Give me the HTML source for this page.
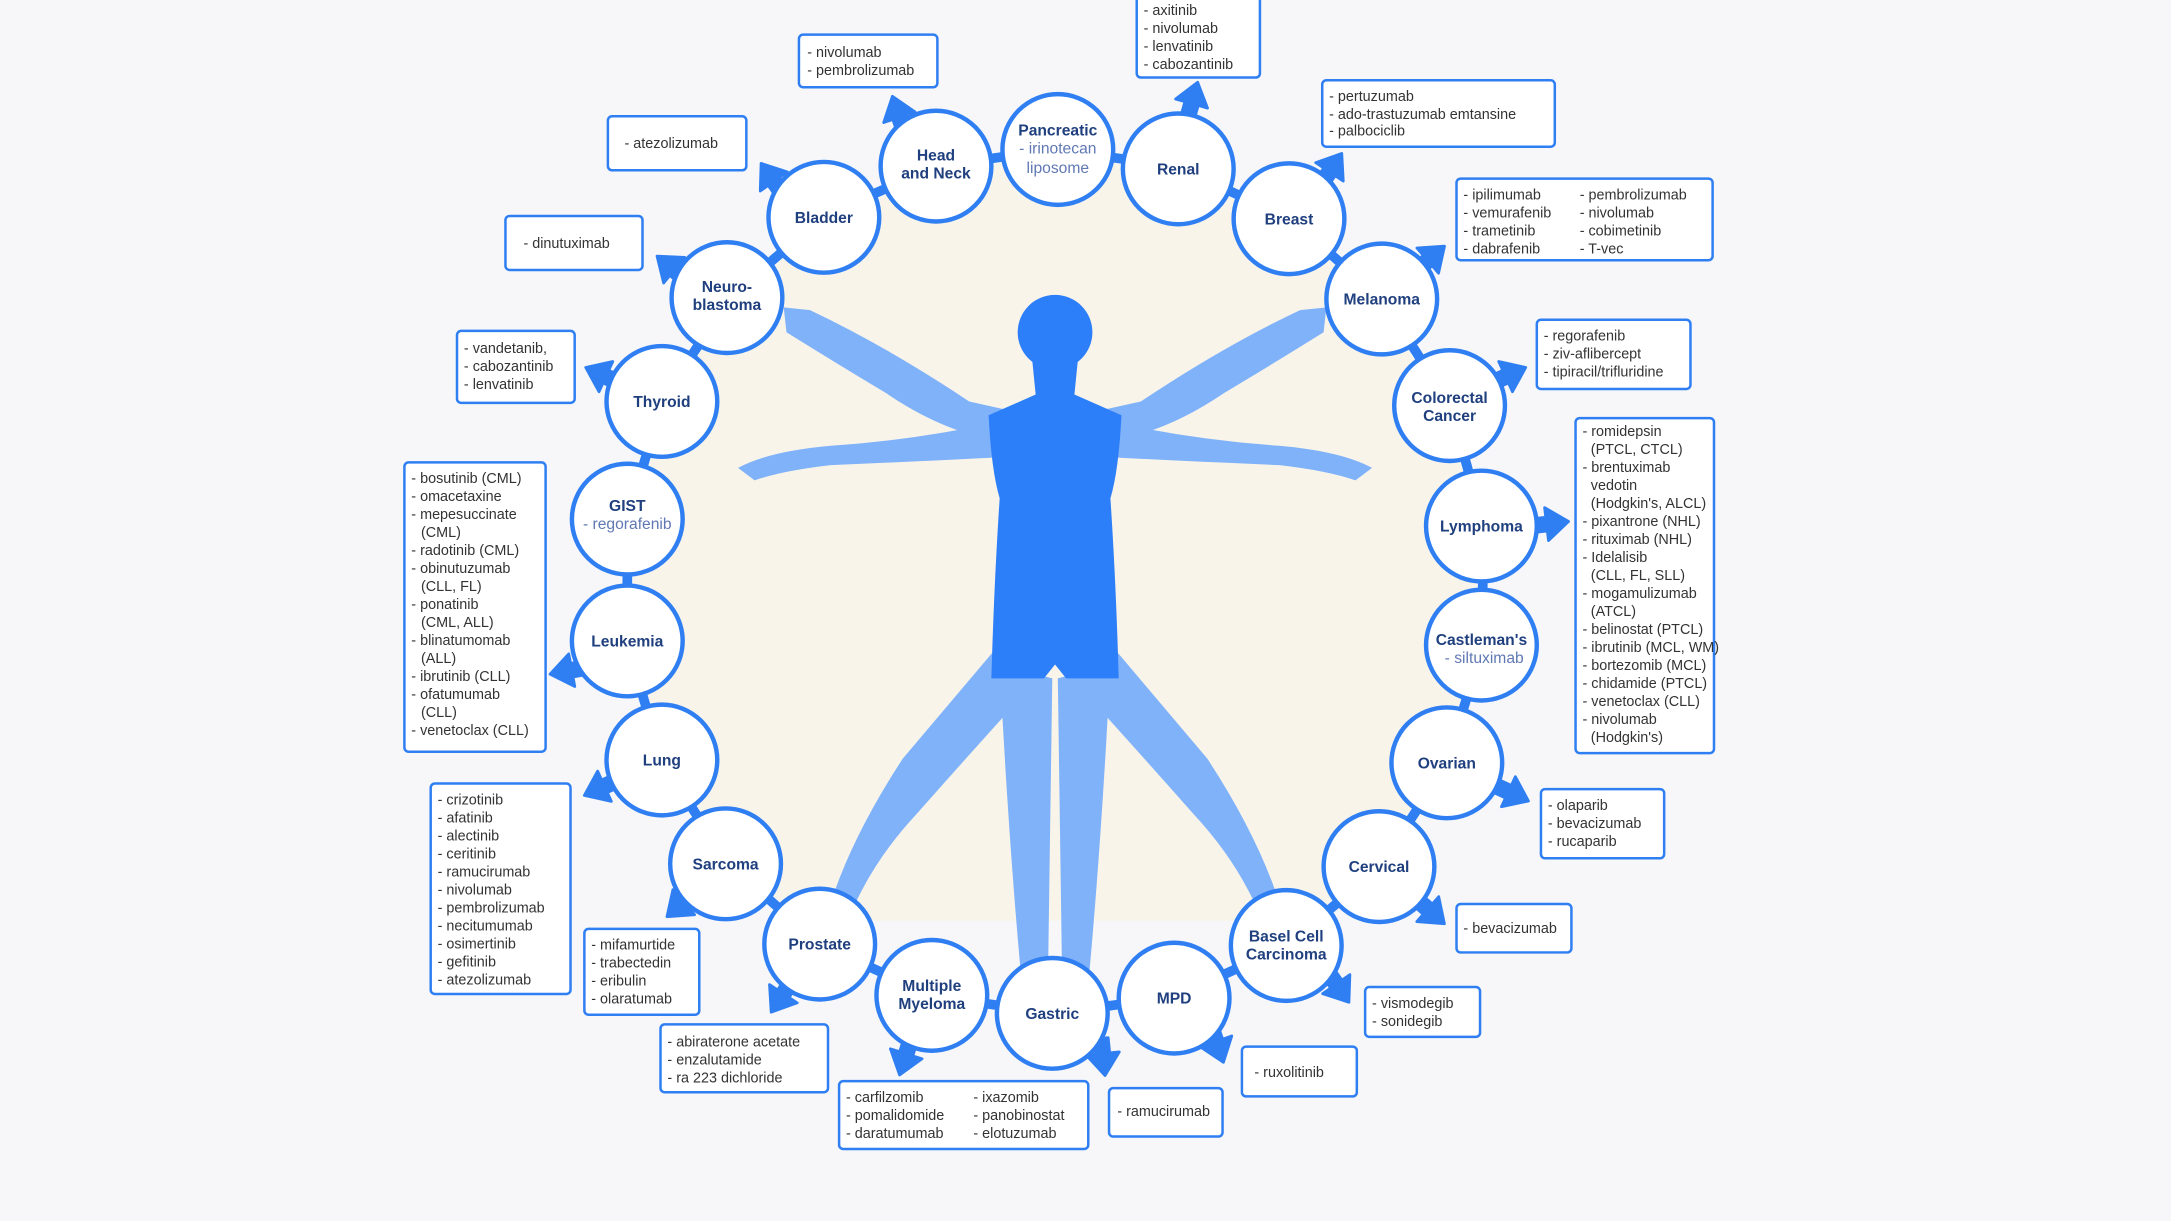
<!DOCTYPE html>
<html><head><meta charset="utf-8">
<style>
html,body{margin:0;padding:0;background:#f7f7f9;}
svg{display:block;}
.c{fill:#fff;stroke:#2f7ff3;stroke-width:3.2;}
.t{font-family:"Liberation Sans",sans-serif;font-weight:bold;font-size:11.3px;fill:#1f3f7e;text-anchor:middle;}
.s{font-family:"Liberation Sans",sans-serif;font-size:11.3px;fill:#6079b4;text-anchor:middle;}
.b{fill:#fff;stroke:#2f7ff3;stroke-width:1.8;}
.x{font-family:"Liberation Sans",sans-serif;font-size:10.4px;fill:#333;}
.ar{fill:#2f7ff3;stroke:#2f7ff3;stroke-width:2;stroke-linejoin:round;}
</style></head><body>
<svg id="sv" width="2171" height="1221" viewBox="0 0 1568 882" xmlns="http://www.w3.org/2000/svg">
<defs><clipPath id="cp"><rect x="0" y="0" width="1568" height="665"/></clipPath></defs>
<rect width="1568" height="882" fill="#f7f7f9"/>
<circle cx="762" cy="420" r="305" fill="#f8f4ea" clip-path="url(#cp)"/>

<!-- figure -->
<g fill="#80b2fa">
<path d="M566,222 L585,224 Q640,250 700,290 L745,300 L738,320 Q690,318 640,284 Q600,260 568,240 Z"/>
<path d="M958,222 L939,224 Q884,250 824,290 L779,300 L786,320 Q834,318 884,284 Q924,260 956,240 Z"/>
<path d="M533,338 Q555,326 600,322 Q660,318 720,305 L728,330 Q670,333 600,336 Q565,340 545,347 Z"/>
<path d="M991,338 Q969,326 924,322 Q864,318 804,305 L796,330 Q854,333 924,336 Q959,340 979,347 Z"/>
<path d="M718,470 L748,492 Q700,545 662,588 Q634,618 618,652 L602,646 Q618,600 652,548 Z"/>
<path d="M806,470 L776,492 Q824,545 862,588 Q890,618 906,652 L922,646 Q906,600 872,548 Z"/>
<path d="M722,480 L760,490 L757,700 L737,700 Q728,600 722,480 Z"/>
<path d="M802,480 L764,490 L767,700 L787,700 Q796,600 802,480 Z"/>
</g>
<g fill="#2d7ff9">
<ellipse cx="762" cy="240" rx="27" ry="27"/>
<path d="M745,255 L779,255 L776,285 L810,300 Q808,340 802,360 Q806,420 808,490 L770,490 L762,480 L754,490 L716,490 Q718,420 722,360 Q716,340 714,300 L748,285 Z"/>
</g>

<circle cx="762" cy="420" r="309" fill="none" stroke="#2f7ff3" stroke-width="7"/>

<g id="arrows"></g>

<g>
<circle class="c" cx="676" cy="120" r="40"/><text class="t" x="676" y="116">Head</text><text class="t" x="676" y="129">and Neck</text>
<circle class="c" cx="764" cy="108" r="40"/><text class="t" x="764" y="98">Pancreatic</text><text class="s" x="764" y="111">- irinotecan</text><text class="s" x="764" y="125">liposome</text>
<circle class="c" cx="851" cy="122" r="40"/><text class="t" x="851" y="126">Renal</text>
<circle class="c" cx="931" cy="158" r="40"/><text class="t" x="931" y="162">Breast</text>
<circle class="c" cx="998" cy="216" r="40"/><text class="t" x="998" y="220">Melanoma</text>
<circle class="c" cx="1047" cy="293" r="40"/><text class="t" x="1047" y="291">Colorectal</text><text class="t" x="1047" y="304">Cancer</text>
<circle class="c" cx="1070" cy="380" r="40"/><text class="t" x="1070" y="384">Lymphoma</text>
<circle class="c" cx="1070" cy="466" r="40"/><text class="t" x="1070" y="466">Castleman's</text><text class="s" x="1072" y="479">- siltuximab</text>
<circle class="c" cx="1045" cy="551" r="40"/><text class="t" x="1045" y="555">Ovarian</text>
<circle class="c" cx="996" cy="626" r="40"/><text class="t" x="996" y="630">Cervical</text>
<circle class="c" cx="929" cy="683" r="40"/><text class="t" x="929" y="680">Basel Cell</text><text class="t" x="929" y="693">Carcinoma</text>
<circle class="c" cx="848" cy="721" r="40"/><text class="t" x="848" y="725">MPD</text>
<circle class="c" cx="760" cy="732" r="40"/><text class="t" x="760" y="736">Gastric</text>
<circle class="c" cx="673" cy="719" r="40"/><text class="t" x="673" y="716">Multiple</text><text class="t" x="673" y="729">Myeloma</text>
<circle class="c" cx="592" cy="682" r="40"/><text class="t" x="592" y="686">Prostate</text>
<circle class="c" cx="524" cy="624" r="40"/><text class="t" x="524" y="628">Sarcoma</text>
<circle class="c" cx="478" cy="549" r="40"/><text class="t" x="478" y="553">Lung</text>
<circle class="c" cx="453" cy="463" r="40"/><text class="t" x="453" y="467">Leukemia</text>
<circle class="c" cx="453" cy="375" r="40"/><text class="t" x="453" y="369">GIST</text><text class="s" x="453" y="382">- regorafenib</text>
<circle class="c" cx="478" cy="290" r="40"/><text class="t" x="478" y="294">Thyroid</text>
<circle class="c" cx="525" cy="215" r="40"/><text class="t" x="525" y="211">Neuro-</text><text class="t" x="525" y="224">blastoma</text>
<circle class="c" cx="595" cy="157" r="40"/><text class="t" x="595" y="161">Bladder</text>
</g>

<g>
<rect class="b" x="577" y="25" width="100" height="38" rx="3"/>
<text class="x" x="583" y="41">- nivolumab</text><text class="x" x="583" y="54">- pembrolizumab</text>

<rect class="b" x="821" y="-3" width="89" height="59" rx="3"/>
<text class="x" x="826" y="11">- axitinib</text><text class="x" x="826" y="24">- nivolumab</text><text class="x" x="826" y="37">- lenvatinib</text><text class="x" x="826" y="50">- cabozantinib</text>

<rect class="b" x="955" y="58" width="168" height="48" rx="3"/>
<text class="x" x="960" y="73">- pertuzumab</text><text class="x" x="960" y="86">- ado-trastuzumab emtansine</text><text class="x" x="960" y="98">- palbociclib</text>

<rect class="b" x="1052" y="129" width="185" height="59" rx="3"/>
<text class="x" x="1057" y="144">- ipilimumab</text><text class="x" x="1057" y="157">- vemurafenib</text><text class="x" x="1057" y="170">- trametinib</text><text class="x" x="1057" y="183">- dabrafenib</text>
<text class="x" x="1141" y="144">- pembrolizumab</text><text class="x" x="1141" y="157">- nivolumab</text><text class="x" x="1141" y="170">- cobimetinib</text><text class="x" x="1141" y="183">- T-vec</text>

<rect class="b" x="1110" y="231" width="111" height="50" rx="3"/>
<text class="x" x="1115" y="246">- regorafenib</text><text class="x" x="1115" y="259">- ziv-aflibercept</text><text class="x" x="1115" y="272">- tipiracil/trifluridine</text>

<rect class="b" x="1138" y="302" width="100" height="242" rx="3"/>
<text class="x" x="1143" y="315">- romidepsin</text><text class="x" x="1149" y="328">(PTCL, CTCL)</text>
<text class="x" x="1143" y="341">- brentuximab</text><text class="x" x="1149" y="354">vedotin</text><text class="x" x="1149" y="367">(Hodgkin's, ALCL)</text>
<text class="x" x="1143" y="380">- pixantrone (NHL)</text><text class="x" x="1143" y="393">- rituximab (NHL)</text>
<text class="x" x="1143" y="406">- Idelalisib</text><text class="x" x="1149" y="419">(CLL, FL, SLL)</text>
<text class="x" x="1143" y="432">- mogamulizumab</text><text class="x" x="1149" y="445">(ATCL)</text>
<text class="x" x="1143" y="458">- belinostat (PTCL)</text><text class="x" x="1143" y="471">- ibrutinib (MCL, WM)</text>
<text class="x" x="1143" y="484">- bortezomib (MCL)</text><text class="x" x="1143" y="497">- chidamide (PTCL)</text>
<text class="x" x="1143" y="510">- venetoclax (CLL)</text><text class="x" x="1143" y="523">- nivolumab</text><text class="x" x="1149" y="536">(Hodgkin's)</text>

<rect class="b" x="1113" y="570" width="89" height="50" rx="3"/>
<text class="x" x="1118" y="585">- olaparib</text><text class="x" x="1118" y="598">- bevacizumab</text><text class="x" x="1118" y="611">- rucaparib</text>

<rect class="b" x="1052" y="653" width="83" height="35" rx="3"/>
<text class="x" x="1057" y="674">- bevacizumab</text>

<rect class="b" x="986" y="713" width="83" height="36" rx="3"/>
<text class="x" x="991" y="728">- vismodegib</text><text class="x" x="991" y="741">- sonidegib</text>

<rect class="b" x="897" y="756" width="83" height="36" rx="3"/>
<text class="x" x="906" y="778">- ruxolitinib</text>

<rect class="b" x="801" y="786" width="82" height="35" rx="3"/>
<text class="x" x="807" y="806">- ramucirumab</text>

<rect class="b" x="606" y="781" width="180" height="49" rx="3"/>
<text class="x" x="611" y="796">- carfilzomib</text><text class="x" x="611" y="809">- pomalidomide</text><text class="x" x="611" y="822">- daratumumab</text>
<text class="x" x="703" y="796">- ixazomib</text><text class="x" x="703" y="809">- panobinostat</text><text class="x" x="703" y="822">- elotuzumab</text>

<rect class="b" x="477" y="740" width="121" height="49" rx="3"/>
<text class="x" x="482" y="756">- abiraterone acetate</text><text class="x" x="482" y="769">- enzalutamide</text><text class="x" x="482" y="782">- ra 223 dichloride</text>

<rect class="b" x="422" y="671" width="83" height="62" rx="3"/>
<text class="x" x="427" y="686">- mifamurtide</text><text class="x" x="427" y="699">- trabectedin</text><text class="x" x="427" y="712">- eribulin</text><text class="x" x="427" y="725">- olaratumab</text>

<rect class="b" x="311" y="566" width="101" height="152" rx="3"/>
<text class="x" x="316" y="581">- crizotinib</text><text class="x" x="316" y="594">- afatinib</text><text class="x" x="316" y="607">- alectinib</text><text class="x" x="316" y="620">- ceritinib</text><text class="x" x="316" y="633">- ramucirumab</text><text class="x" x="316" y="646">- nivolumab</text><text class="x" x="316" y="659">- pembrolizumab</text><text class="x" x="316" y="672">- necitumumab</text><text class="x" x="316" y="685">- osimertinib</text><text class="x" x="316" y="698">- gefitinib</text><text class="x" x="316" y="711">- atezolizumab</text>

<rect class="b" x="292" y="334" width="102" height="209" rx="3"/>
<text class="x" x="297" y="349">- bosutinib (CML)</text><text class="x" x="297" y="362">- omacetaxine</text><text class="x" x="297" y="375">- mepesuccinate</text><text class="x" x="304" y="388">(CML)</text>
<text class="x" x="297" y="401">- radotinib (CML)</text><text class="x" x="297" y="414">- obinutuzumab</text><text class="x" x="304" y="427">(CLL, FL)</text>
<text class="x" x="297" y="440">- ponatinib</text><text class="x" x="304" y="453">(CML, ALL)</text><text class="x" x="297" y="466">- blinatumomab</text><text class="x" x="304" y="479">(ALL)</text>
<text class="x" x="297" y="492">- ibrutinib (CLL)</text><text class="x" x="297" y="505">- ofatumumab</text><text class="x" x="304" y="518">(CLL)</text><text class="x" x="297" y="531">- venetoclax (CLL)</text>

<rect class="b" x="330" y="239" width="85" height="52" rx="3"/>
<text class="x" x="335" y="255">- vandetanib,</text><text class="x" x="335" y="268">- cabozantinib</text><text class="x" x="335" y="281">- lenvatinib</text>

<rect class="b" x="365" y="156" width="99" height="39" rx="3"/>
<text class="x" x="378" y="179">- dinutuximab</text>

<rect class="b" x="439" y="84" width="100" height="39" rx="3"/>
<text class="x" x="451" y="107">- atezolizumab</text>
</g>
</svg>
<script>
var A=[[648,80],[862,70],[963,120],[1035,185],[1092,270],[1122,378],[1094,574],[1035,660],[968,715],[880,757],[797,766],[653,766],[563,722],[490,655],[432,570],[408,485],[433,270],[483,192],[556,127]];
var g=document.getElementById('arrows'),ns='http://www.w3.org/2000/svg';
A.forEach(function(p){
 var a=Math.atan2(p[1]-420,p[0]-762)*180/Math.PI+90;
 var e=document.createElementNS(ns,'polygon');
 e.setAttribute('points','-12,5 0,-11 12,5 5,5 5,16 -5,16 -5,5');
 e.setAttribute('class','ar');
 e.setAttribute('transform','translate('+p[0]+','+p[1]+') rotate('+a.toFixed(1)+')');
 g.appendChild(e);
});
</script>
</body></html>
